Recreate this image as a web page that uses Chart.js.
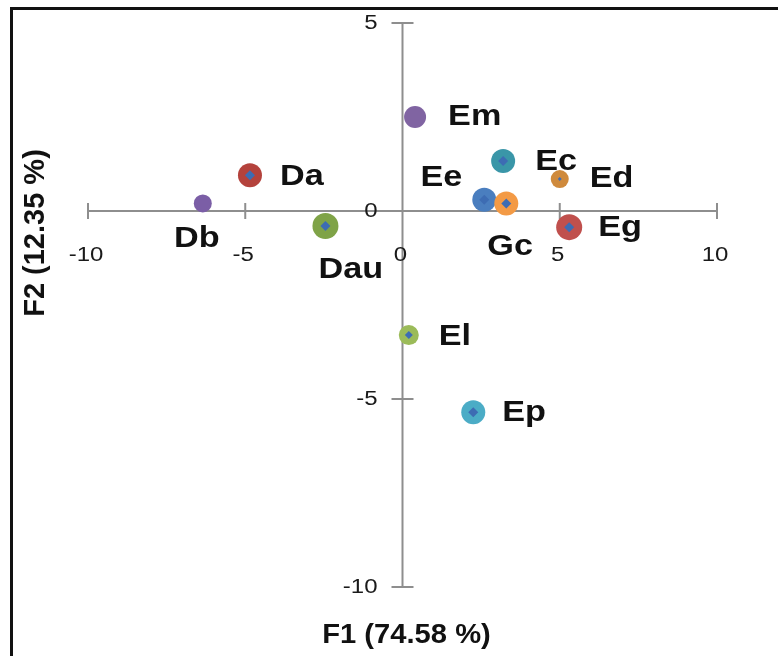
<!DOCTYPE html>
<html>
<head>
<meta charset="utf-8">
<script src="https://cdn.jsdelivr.net/npm/chart.js@4/dist/chart.umd.min.js"></script>
<style>
  html, body { margin: 0; padding: 0; background: #fff; }
  #wrap { width: 778px; height: 656px; position: relative; }
</style>
</head>
<body>
<div id="wrap"><canvas id="pcaChart"></canvas></div>
<script>
// sample names and their scores on the two factors
const names = ["Db", "Da", "Dau", "Em", "Ee", "Gc", "Ec", "Ed", "Eg", "El", "Ep"];
const f1 = [-6.35, -4.85, -2.45, 0.4, 2.6, 3.3, 3.2, 5.0, 5.3, 0.2, 2.25];
const f2 = [0.2, 0.95, -0.4, 2.5, 0.3, 0.2, 1.33, 0.85, -0.43, -3.3, -5.35];

const xTicks = [-10, -5, 0, 5, 10];
const yTicks = [5, 0, -5, -10];
const xTitle = "F1 (74.58 %)";
const yTitle = "F2 (12.35 %)";

// marker styles, one per sample
const ringColors = ["#7b5ea6", "#b4423c", "#7fa347", "#8064a2", "#4a7ebf", "#f39a45",
  "#3a96a8", "#cf8a3c", "#c0504d", "#9bbb59", "#4bacc6"];
const ringSizes = [9, 12, 13, 11, 12, 12, 12, 9, 13, 10, 12];
const dotSizes = [0, 5, 5, 0, 5, 5, 5, 2, 5, 4, 5];

// label placement relative to each marker: [dx, dy, align]
const labelPlace = [
  [-6, 36, "center"], [30, 2, "left"], [-7, 44, "left"], [33, 0, "left"],
  [-22, -22, "right"], [-19, 44, "left"], [32, 1, "left"], [30, 0, "left"],
  [29, 1, "left"], [30, 2, "left"], [29, 1, "left"]
];

const points = names.map((n, i) => ({ x: f1[i], y: f2[i] }));

function stretchText(ctx, text, x, y, sx) {
  ctx.save();
  ctx.translate(x, y);
  ctx.scale(sx, 1);
  ctx.fillText(text, 0, 0);
  ctx.restore();
}

const axesPlugin = {
  id: "crossAxes",
  beforeDatasetsDraw(chart) {
    const { ctx, scales: { x, y } } = chart;
    const x0 = x.getPixelForValue(0);
    const y0 = y.getPixelForValue(0);
    ctx.save();
    // frame
    ctx.strokeStyle = "#111";
    ctx.lineWidth = 3;
    ctx.beginPath();
    ctx.moveTo(11.5, 656);
    ctx.lineTo(11.5, 8.5);
    ctx.lineTo(778, 8.5);
    ctx.stroke();

    ctx.strokeStyle = "#8e8e8e";
    ctx.lineWidth = 2;
    ctx.beginPath();
    ctx.moveTo(x.getPixelForValue(-10), y0);
    ctx.lineTo(x.getPixelForValue(10), y0);
    ctx.moveTo(x0, y.getPixelForValue(5));
    ctx.lineTo(x0, y.getPixelForValue(-10));
    xTicks.forEach((t) => {
      const px = x.getPixelForValue(t);
      ctx.moveTo(px, y0 - 8);
      ctx.lineTo(px, y0 + 8);
    });
    yTicks.forEach((t) => {
      const py = y.getPixelForValue(t);
      ctx.moveTo(x0 - 11, py);
      ctx.lineTo(x0 + 11, py);
    });
    ctx.stroke();

    ctx.fillStyle = "#1a1a1a";
    ctx.font = "20px 'Liberation Sans', Arial, sans-serif";
    ctx.textBaseline = "middle";
    ctx.textAlign = "center";
    xTicks.forEach((t) => {
      stretchText(ctx, String(t), x.getPixelForValue(t) - 2, y0 + 44, 1.2);
    });
    ctx.textAlign = "right";
    yTicks.forEach((t) => {
      stretchText(ctx, String(t), x0 - 25, y.getPixelForValue(t), 1.2);
    });

    ctx.fillStyle = "#111";
    ctx.font = "bold 27px 'Liberation Sans', Arial, sans-serif";
    ctx.textAlign = "center";
    stretchText(ctx, xTitle, x0 + 4, 636, 1.08);
    ctx.font = "bold 29px 'Liberation Sans', Arial, sans-serif";
    ctx.save();
    ctx.translate(36, 233);
    ctx.rotate(-Math.PI / 2);
    ctx.fillText(yTitle, 0, 0);
    ctx.restore();
    ctx.restore();
  },
  afterDatasetsDraw(chart) {
    const { ctx, scales: { x, y } } = chart;
    ctx.save();
    ctx.fillStyle = "#111";
    ctx.font = "bold 29px 'Liberation Sans', Arial, sans-serif";
    ctx.textBaseline = "middle";
    names.forEach((n, i) => {
      const [dx, dy, align] = labelPlace[i];
      ctx.textAlign = align;
      stretchText(ctx, n, x.getPixelForValue(f1[i]) + dx, y.getPixelForValue(f2[i]) + dy, 1.18);
    });
    ctx.restore();
  }
};

new Chart(document.getElementById("pcaChart"), {
  type: "scatter",
  data: {
    datasets: [
      {
        data: points,
        pointStyle: "rectRot",
        pointRadius: dotSizes,
        pointBackgroundColor: "#3d6cb3",
        pointBorderWidth: 0,
        order: 1,
      },
      {
        data: points,
        pointStyle: "circle",
        pointRadius: ringSizes,
        pointBackgroundColor: ringColors,
        pointBorderWidth: 0,
        order: 2,
      },
    ],
  },
  plugins: [axesPlugin],
  options: {
    responsive: true,
    maintainAspectRatio: false,
    animation: false,
    events: [],
    layout: {
      padding: { left: 88, right: 61, top: 23, bottom: 69 },
    },
    plugins: {
      legend: { display: false },
      tooltip: { enabled: false },
    },
    scales: {
      x: { type: "linear", min: -10, max: 10, display: false },
      y: { type: "linear", min: -10, max: 5, display: false },
    },
  },
});
</script>
</body>
</html>
